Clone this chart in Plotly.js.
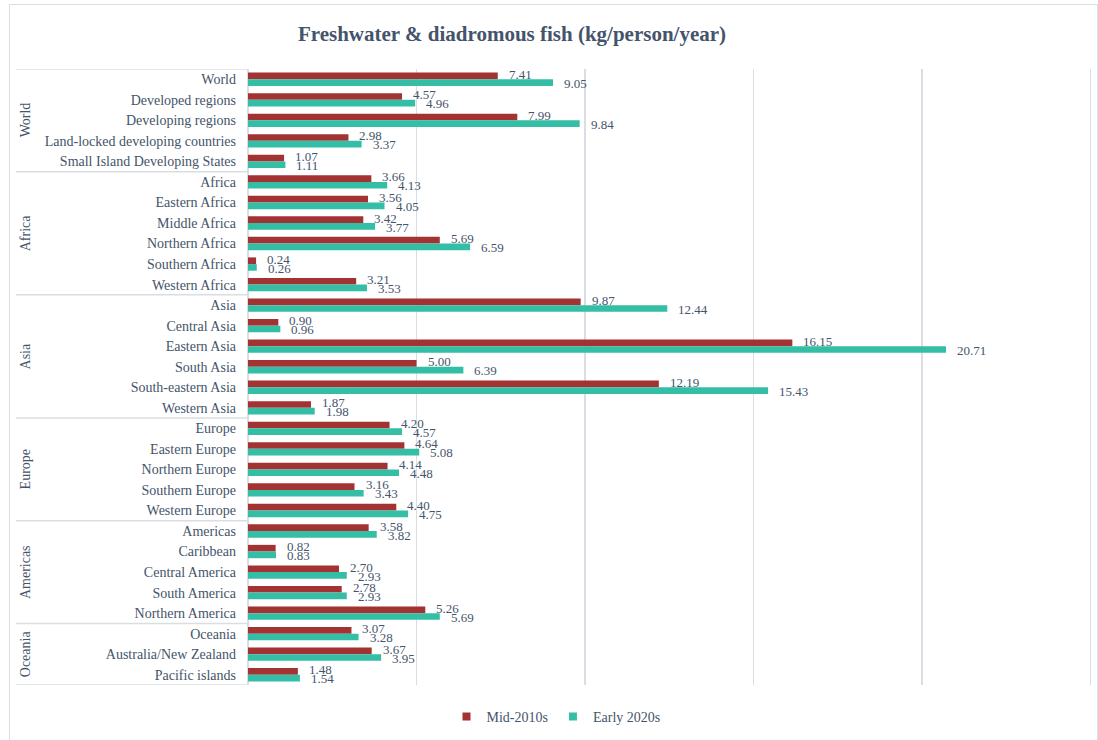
<!DOCTYPE html>
<html>
<head>
<meta charset="utf-8">
<script src="https://cdn.plot.ly/plotly-3.0.1.min.js"></script>
<style>
  html, body { margin: 0; padding: 0; background: #ffffff; }
  #chart { width: 1098px; height: 740px; }
</style>
</head>
<body>
<div id="chart"></div>
<script>
// ---- Data ----
const categories = [
  "World", "Developed regions", "Developing regions", "Land-locked developing countries", "Small Island Developing States",
  "Africa", "Eastern Africa", "Middle Africa", "Northern Africa", "Southern Africa", "Western Africa",
  "Asia", "Central Asia", "Eastern Asia", "South Asia", "South-eastern Asia", "Western Asia",
  "Europe", "Eastern Europe", "Northern Europe", "Southern Europe", "Western Europe",
  "Americas", "Caribbean", "Central America", "South America", "Northern America",
  "Oceania", "Australia/New Zealand", "Pacific islands"
];
const mid2010s = [
  7.41, 4.57, 7.99, 2.98, 1.07,
  3.66, 3.56, 3.42, 5.69, 0.24, 3.21,
  9.87, 0.90, 16.15, 5.00, 12.19, 1.87,
  4.20, 4.64, 4.14, 3.16, 4.40,
  3.58, 0.82, 2.70, 2.78, 5.26,
  3.07, 3.67, 1.48
];
const early2020s = [
  9.05, 4.96, 9.84, 3.37, 1.11,
  4.13, 4.05, 3.77, 6.59, 0.26, 3.53,
  12.44, 0.96, 20.71, 6.39, 15.43, 1.98,
  4.57, 5.08, 4.48, 3.43, 4.75,
  3.82, 0.83, 2.93, 2.93, 5.69,
  3.28, 3.95, 1.54
];
const groupNames = ["World", "Africa", "Asia", "Europe", "Americas", "Oceania"];
const groupSizes = [5, 6, 6, 5, 5, 3];
const seriesNames = ["Mid-2010s", "Early 2020s"];

// ---- Styles ----
const RED = "#A33333";
const TEAL = "#34BEA6";
const TXT = "#44546A";
const GRID = "#D9DEE4";
const FONT = "Liberation Serif, Times New Roman, serif";

// plot area geometry in pixels
const W = 1098, H = 740;
const L = 248, R = 4, T = 69, B = 55;
const pw = W - L - R, ph = H - T - B;
const px2x = p => (p - L) / pw;
const px2y = p => (H - B - p) / ph;

const traces = [
  {
    type: "bar", orientation: "h", name: seriesNames[0],
    y: categories, x: mid2010s, marker: { color: RED },
    showlegend: false, hoverinfo: "x+y"
  },
  {
    type: "bar", orientation: "h", name: seriesNames[1],
    y: categories, x: early2020s, marker: { color: TEAL },
    showlegend: false, hoverinfo: "x+y"
  },
  // legend-only entries (small square markers)
  {
    type: "scatter", mode: "markers", name: seriesNames[0],
    x: [null], y: [null], marker: { symbol: "square", size: 8, color: RED }
  },
  {
    type: "scatter", mode: "markers", name: seriesNames[1],
    x: [null], y: [null], marker: { symbol: "square", size: 8, color: TEAL }
  }
];

const annotations = [];
// data labels
categories.forEach((c, i) => {
  annotations.push({
    x: mid2010s[i], y: c, xref: "x", yref: "y",
    text: mid2010s[i].toFixed(2), showarrow: false,
    xanchor: "left", yanchor: "middle", xshift: 9, yshift: 5,
    font: { family: FONT, size: 13, color: TXT }
  });
  annotations.push({
    x: early2020s[i], y: c, xref: "x", yref: "y",
    text: early2020s[i].toFixed(2), showarrow: false,
    xanchor: "left", yanchor: "middle", xshift: 9, yshift: -4,
    font: { family: FONT, size: 13, color: TXT }
  });
});

// group labels and dividers
const shapes = [];
let start = 0;
shapes.push({
  type: "line", xref: "paper", yref: "y",
  x0: px2x(16), x1: 0, y0: -0.5, y1: -0.5,
  line: { color: GRID, width: 1.5 }
});
groupNames.forEach((g, k) => {
  const n = groupSizes[k];
  annotations.push({
    x: px2x(25), y: start + (n - 1) / 2, xref: "paper", yref: "y",
    text: g, textangle: -90, showarrow: false,
    xanchor: "center", yanchor: "middle",
    font: { family: FONT, size: 14, color: TXT }
  });
  start += n;
  shapes.push({
    type: "line", xref: "paper", yref: "y",
    x0: px2x(16), x1: 0, y0: start - 0.5, y1: start - 0.5,
    line: { color: GRID, width: 1.5 }
  });
});

// outer chart frame
shapes.push({
  type: "rect", xref: "paper", yref: "paper",
  x0: px2x(9.5), x1: px2x(1097.5), y0: px2y(760), y1: px2y(4.5),
  line: { color: GRID, width: 1 }, fillcolor: "rgba(0,0,0,0)", layer: "below"
});

const layout = {
  width: W, height: H,
  margin: { l: L, r: R, t: T, b: B, pad: 0 },
  paper_bgcolor: "#ffffff", plot_bgcolor: "#ffffff",
  font: { family: FONT, size: 13, color: TXT },
  title: {
    text: "<b>Freshwater & diadromous fish (kg/person/year)</b>",
    font: { family: FONT, size: 21, color: TXT },
    xref: "container", yref: "container",
    x: 512 / W, y: 1 - 34 / H, xanchor: "center", yanchor: "middle"
  },
  barmode: "group", bargap: 0.35, bargroupgap: 0,
  xaxis: {
    range: [0, 25.1], dtick: 5, tick0: 0,
    showgrid: true, gridcolor: GRID, gridwidth: 1.5,
    zeroline: true, zerolinecolor: GRID, zerolinewidth: 1.5,
    showticklabels: false, ticks: "", showline: false, fixedrange: true
  },
  yaxis: {
    type: "category", range: [29.5, -0.5], autorange: false,
    tickmode: "array", tickvals: categories, ticktext: categories,
    ticks: "", ticklabelstandoff: 11,
    tickfont: { family: FONT, size: 14, color: TXT },
    showgrid: false, zeroline: false, showline: false, fixedrange: true
  },
  legend: {
    orientation: "h", xref: "container", yref: "container",
    x: 556 / W, y: 1 - 717 / H,
    xanchor: "center", yanchor: "middle",
    font: { family: FONT, size: 14, color: TXT },
    bgcolor: "rgba(0,0,0,0)"
  },
  annotations: annotations,
  shapes: shapes
};

Plotly.newPlot("chart", traces, layout, { displayModeBar: false, staticPlot: true });
</script>
</body>
</html>
